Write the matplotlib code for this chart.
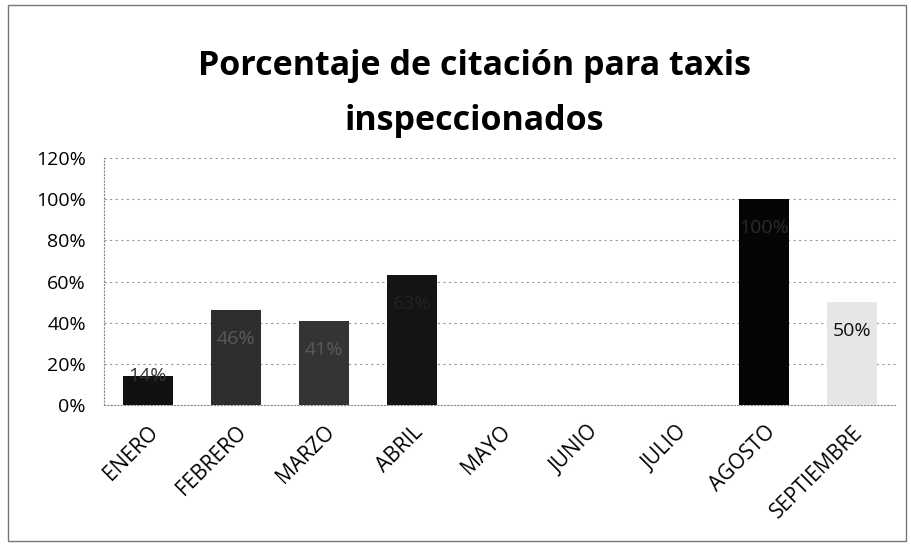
import matplotlib.pyplot as plt
from matplotlib.patches import Rectangle
from matplotlib.ticker import FuncFormatter

# --- DATA ---
months = ["ENERO", "FEBRERO", "MARZO", "ABRIL", "MAYO", "JUNIO", "JULIO", "AGOSTO", "SEPTIEMBRE"]
pct = [14, 46, 41, 63, 0, 0, 0, 100, 50]
labels = ["14%", "46%", "41%", "63%", "", "", "", "100%", "50%"]
bar_colors = ["#111111", "#2e2e2e", "#343434", "#141414", "#111111", "#111111", "#111111", "#050505", "#e6e6e6"]
label_colors = ["#333333", "#5a5a5a", "#5a5a5a", "#222222", "#000000", "#000000", "#000000", "#2a2a2a", "#111111"]

plt.rcParams['font.family'] = ['Open Sans', 'DejaVu Sans']

fig = plt.figure(figsize=(9.11, 5.49), dpi=100)
ax = fig.add_axes([0.114, 0.262, 0.87, 0.45])

x = range(len(months))
bars = ax.bar(x, pct, width=0.57, color=bar_colors, zorder=3)

for b, lab, c in zip(bars, labels, label_colors):
    if lab:
        h = b.get_height()
        y = h - 14 if h > 30 else h
        ax.text(b.get_x() + b.get_width() / 2, y, lab,
                ha='center', va='center', fontsize=14, color=c, zorder=4)

ax.set_ylim(0, 120)
ax.set_yticks(range(0, 121, 20))
ax.yaxis.set_major_formatter(FuncFormatter(lambda v, p: f"{int(v)}%"))
ax.set_xlim(-0.5, len(months) - 0.5)
ax.set_xticks(list(x))
ax.set_xticklabels(months, rotation=45, ha='right', rotation_mode='anchor', fontsize=15)
ax.tick_params(axis='y', labelsize=14, length=0, pad=13)
ax.tick_params(axis='x', length=0, pad=12)

ax.grid(axis='y', color='#999999', linestyle=(0, (2, 3)), linewidth=0.8, zorder=0)
for s in ax.spines.values():
    s.set_visible(False)
ax.spines['left'].set_visible(True)
ax.spines['left'].set_color('#888888')
ax.spines['left'].set_linestyle((0, (1, 2)))
ax.spines['bottom'].set_visible(True)
ax.spines['bottom'].set_color('#888888')
ax.spines['bottom'].set_linestyle((0, (1, 2)))

fig.text(0.521, 0.83, "Porcentaje de citación para taxis\ninspeccionados", ha='center', va='center',
         fontsize=24.5, fontweight='bold', linespacing=1.8)

fig.patches.append(Rectangle((0.009, 0.015), 0.985, 0.976, transform=fig.transFigure,
                             fill=False, edgecolor='#777777', linewidth=1.0))

fig.savefig("out.png", dpi=100)
